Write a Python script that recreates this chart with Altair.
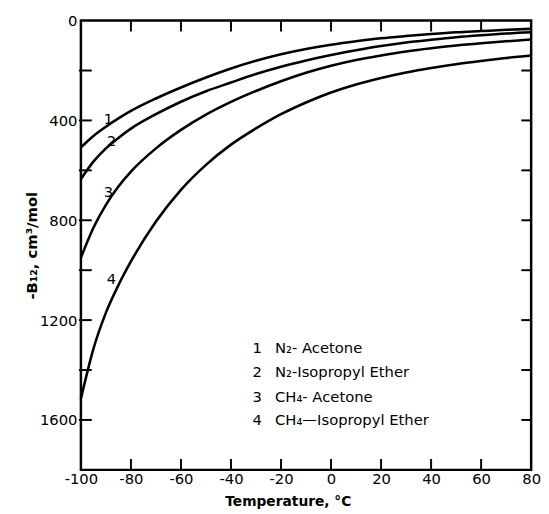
import altair as alt
import pandas as pd

# Temperature grid (deg C)
temps = [-100, -95, -90, -85, -80, -70, -60, -50, -40, -30, -20, -10, 0, 10, 20, 30, 40, 50, 60, 70, 80]

# -B12 values (cm3/mol)
n2_acetone = [508, 462, 425, 392, 362, 312, 268, 228, 192, 161, 135, 114, 97, 83, 71, 62, 54, 47, 42, 37, 33]
n2_ether = [635, 565, 512, 470, 433, 375, 325, 283, 248, 214, 185, 160, 138, 119, 102, 88, 77, 67, 59, 52, 47]
ch4_acetone = [950, 830, 738, 665, 605, 512, 438, 377, 326, 282, 243, 209, 181, 158, 140, 124, 111, 100, 91, 83, 76]
ch4_ether = [1515, 1315, 1170, 1060, 965, 805, 678, 578, 497, 432, 375, 328, 288, 256, 230, 208, 190, 175, 162, 150, 140]

curve_ids = ["1", "2", "3", "4"]
legend_labels = ["N₂- Acetone", "N₂-Isopropyl Ether", "CH₄- Acetone", "CH₄—Isopropyl Ether"]

x_labels = [-100, -80, -60, -40, -20, 0, 20, 40, 60, 80]
y_labels = [0, 400, 800, 1200, 1600]
x_minor = [-80, -60, -40, -20, 0, 20, 40, 60]
y_minor = [200, 400, 600, 800, 1000, 1200, 1400, 1600]

rows = []
for cid, vals in zip(curve_ids, [n2_acetone, n2_ether, ch4_acetone, ch4_ether]):
    for t, v in zip(temps, vals):
        rows.append({"T": t, "B": v, "curve": cid})
df = pd.DataFrame(rows)

FONT = "DejaVu Sans"
W, H = 457, 456

xscale = alt.Scale(domain=[-100, 80], nice=False, zero=False)
yscale = alt.Scale(domain=[0, 1800], reverse=True, nice=False, zero=False)

xaxis = alt.Axis(values=x_labels, title="Temperature, °C", tickSize=0, domain=False, grid=False,
                 labelExpr="datum.value + ''",
                 labelFont=FONT, labelFontSize=15, labelPadding=2, labelOverlap=False, labelFlush=False,
                 labelColor="black", titleFont=FONT, titleFontSize=14, titleFontWeight="bold",
                 titleColor="black", titlePadding=8, titleX=210)
yaxis = alt.Axis(values=y_labels, title="-B₁₂, cm³/mol", tickSize=0, domain=False, grid=False,
                 labelExpr="datum.value + ''",
                 labelFont=FONT, labelFontSize=15, labelPadding=4, labelOverlap=False, labelFlush=False,
                 labelColor="black", titleFont=FONT, titleFontSize=15, titleFontWeight="bold",
                 titleColor="black", titlePadding=0)

lines = alt.Chart(df).mark_line(color="black", strokeWidth=2.6, interpolate="monotone").encode(
    x=alt.X("T:Q", scale=xscale, axis=xaxis),
    y=alt.Y("B:Q", scale=yscale, axis=yaxis),
    detail="curve:N",
)

tick_y = pd.DataFrame({"B": y_minor})
tick_x = pd.DataFrame({"T": x_minor})

left_ticks = alt.Chart(tick_y).mark_rule(color="black", strokeWidth=2).encode(
    y=alt.Y("B:Q", scale=yscale, axis=yaxis), x=alt.value(-2), x2=alt.value(11))
right_ticks = alt.Chart(tick_y).mark_rule(color="black", strokeWidth=2).encode(
    y=alt.Y("B:Q", scale=yscale, axis=yaxis), x=alt.value(W - 10), x2=alt.value(W))
top_ticks = alt.Chart(tick_x).mark_rule(color="black", strokeWidth=2).encode(
    x=alt.X("T:Q", scale=xscale, axis=xaxis), y=alt.value(0), y2=alt.value(11))
bottom_ticks = alt.Chart(tick_x).mark_rule(color="black", strokeWidth=2).encode(
    x=alt.X("T:Q", scale=xscale, axis=xaxis), y=alt.value(H - 11), y2=alt.value(H))

num_df = pd.DataFrame({"id": curve_ids, "px": [28, 31, 28, 31], "py": [100, 122, 174, 262]})
curve_nums = alt.Chart(num_df).mark_text(font=FONT, fontSize=15, color="black").encode(
    x=alt.X("px:Q", scale=None), y=alt.Y("py:Q", scale=None), text="id:N")

leg_df = pd.DataFrame({"id": curve_ids, "label": legend_labels, "py": [332, 357, 382, 405]})
leg_nums = alt.Chart(leg_df).mark_text(font=FONT, fontSize=15, color="black", align="center", baseline="middle").encode(
    x=alt.value(179), y=alt.Y("py:Q", scale=None), text="id:N")
leg_text = alt.Chart(leg_df).mark_text(font=FONT, fontSize=15, color="black", align="left", baseline="middle").encode(
    x=alt.value(197), y=alt.Y("py:Q", scale=None), text="label:N")

chart = alt.layer(lines, left_ticks, right_ticks, top_ticks, bottom_ticks, curve_nums, leg_nums, leg_text).properties(
    width=W, height=H,
    autosize=alt.AutoSizeParams(type="none"),
    padding={"left": 74, "top": 9, "right": 10, "bottom": 40},
    background="white",
).configure_view(stroke="black", strokeWidth=2.5)

chart.save("out.html", embed_options={"renderer": "svg", "actions": False})
